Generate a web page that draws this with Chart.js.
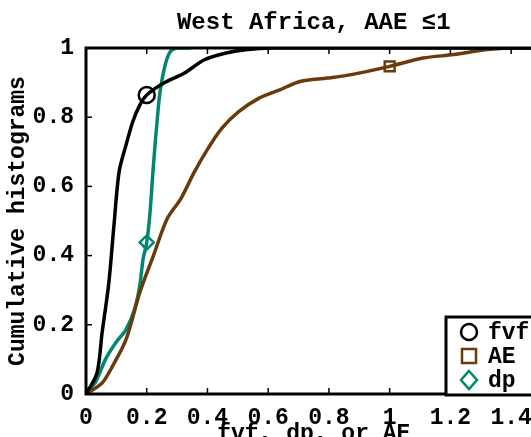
<!DOCTYPE html>
<html><head><meta charset="utf-8">
<script src="https://cdn.jsdelivr.net/npm/chart.js@4/dist/chart.umd.min.js"></script>
<style>html,body{margin:0;padding:0;overflow:hidden;background:#fff;width:531px;height:437px}#w{width:552px;height:452px;position:relative}</style>
</head><body><div id="w"><canvas id="c"></canvas></div>
<script>
const fvfX=[0,0.036,0.053,0.075,0.092,0.109,0.132,0.154,0.177,0.2,0.255,0.323,0.39,0.458,0.525,0.615,1.0,1.5];
const fvfY=[0,0.06,0.177,0.32,0.487,0.642,0.72,0.787,0.835,0.864,0.898,0.927,0.966,0.985,0.995,1.0,1.0,1.0];
const aeX=[0,0.053,0.087,0.132,0.177,0.222,0.267,0.312,0.357,0.402,0.447,0.503,0.57,0.638,0.705,0.795,0.874,1.0,1.11,1.211,1.313,1.403,1.5];
const aeY=[0,0.032,0.08,0.158,0.293,0.4,0.506,0.564,0.642,0.71,0.768,0.816,0.855,0.879,0.903,0.913,0.923,0.947,0.971,0.981,0.995,1.0,1.0];
const dpX=[0,0.03,0.064,0.098,0.132,0.16,0.177,0.188,0.2,0.21,0.222,0.233,0.244,0.261,0.278,0.3,0.345];
const dpY=[0.008,0.032,0.1,0.148,0.187,0.245,0.313,0.39,0.438,0.516,0.661,0.777,0.874,0.952,0.99,1.0,1.0];
const markers={fvf:[0.2,0.864],AE:[1.0,0.947],dp:[0.2,0.438]};
const xTicks=[0,0.2,0.4,0.6,0.8,1,1.2,1.4];
const yTicks=[0,0.2,0.4,0.6,0.8,1];
const names=['fvf','AE','dp'];
const cols=['#000000','#6b3a0c','#00876c'];
const styles=['circle','rect','rectRot'];
const titleText='West Africa, AAE ≤1';
const F='"Liberation Mono", "DejaVu Sans Mono", monospace';
const pts=(xs,ys)=>xs.map((x,i)=>({x,y:ys[i]}));
const ds=[];
[[fvfX,fvfY],[aeX,aeY],[dpX,dpY]].forEach((d,i)=>ds.push({data:pts(d[0],d[1]),borderColor:cols[i],borderWidth:3.5,pointRadius:0,fill:false,tension:0.3,showLine:true}));
names.forEach((n,i)=>ds.push({data:[{x:markers[n][0],y:markers[n][1]}],pointStyle:styles[i],pointRadius:i==0?8:7,pointBorderWidth:2.5,pointBorderColor:cols[i],pointBackgroundColor:'#fff',showLine:false}));
const deco={id:'deco',afterDatasetsDraw(ch){
 const c=ch.ctx,a=ch.chartArea,xs=ch.scales.x,ys=ch.scales.y;
 c.save();c.strokeStyle='#000';c.lineWidth=1.5;
 xTicks.forEach(v=>{const p=xs.getPixelForValue(v);c.beginPath();c.moveTo(p,a.bottom);c.lineTo(p,a.bottom-6);c.moveTo(p,a.top);c.lineTo(p,a.top+6);c.stroke();});
 yTicks.forEach(v=>{const p=ys.getPixelForValue(v);c.beginPath();c.moveTo(a.left,p);c.lineTo(a.left+6,p);c.stroke();});
 c.lineWidth=3;c.strokeRect(a.left,a.top,a.right-a.left,a.bottom-a.top);
 c.fillStyle='#000';c.font='bold 24px '+F;c.textAlign='center';c.textBaseline='middle';
 c.fillText(titleText,(a.left+a.right)/2,23);c.textAlign='left';
 const lx=446,ly=317,lw=130,lh=78;
 c.fillStyle='#fff';c.fillRect(lx,ly,lw,lh);c.lineWidth=3;c.strokeRect(lx,ly,lw,lh);
 c.font='bold 23px '+F;c.textBaseline='middle';
 names.forEach((n,i)=>{const y=ly+15+i*24;
  c.strokeStyle=cols[i];c.lineWidth=2.5;c.fillStyle='#fff';c.beginPath();
  const x=lx+23;
  if(i==0){c.arc(x,y,8,0,Math.PI*2);}else if(i==1){c.rect(x-7,y-7,14,14);}else{c.moveTo(x,y-9);c.lineTo(x+8,y);c.lineTo(x,y+9);c.lineTo(x-8,y);c.closePath();}
  c.fill();c.stroke();
  c.fillStyle='#000';c.fillText(n,lx+42,y+1);});
 c.restore();}};
new Chart(document.getElementById('c'),{type:'scatter',data:{datasets:ds},
options:{responsive:true,maintainAspectRatio:false,animation:false,
layout:{padding:{left:0,right:0,top:48,bottom:0}},
plugins:{legend:{display:false},tooltip:{enabled:false},title:{display:false}},
scales:{
 x:{type:'linear',min:0,max:1.5,grid:{display:false},border:{display:false},
  afterBuildTicks:s=>{s.ticks=xTicks.map(v=>({value:v}));},
  ticks:{color:'#000',font:{family:F,size:23,weight:'bold'},padding:2,maxRotation:0,autoSkip:false,callback:v=>String(v)},
  title:{display:true,text:'fvf, dp, or AE',color:'#000',font:{family:F,size:23,weight:'bold'},padding:{top:-6}},
  afterFit:s=>{s.height=58;}},
 y:{min:0,max:1,grid:{display:false},border:{display:false},
  afterBuildTicks:s=>{s.ticks=yTicks.map(v=>({value:v}));},
  ticks:{color:'#000',font:{family:F,size:23,weight:'bold'},padding:4,callback:v=>String(v)},
  title:{display:true,text:'Cumulative histograms',color:'#000',font:{family:F,size:23,weight:'bold'},padding:{bottom:2}},
  afterFit:s=>{s.width=86;}}}},
plugins:[deco]});
</script></body></html>
